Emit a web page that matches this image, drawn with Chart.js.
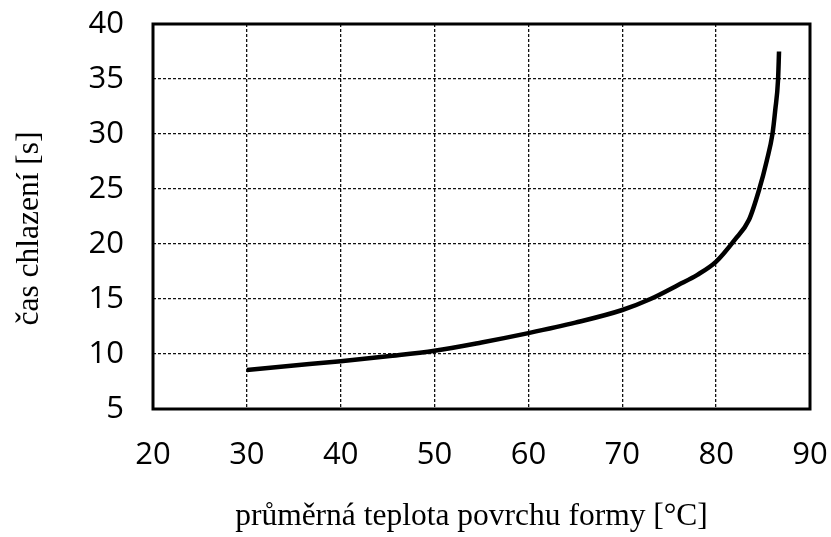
<!DOCTYPE html>
<html>
<head>
<meta charset="utf-8">
<script src="https://cdn.jsdelivr.net/npm/chart.js@4"></script>
<style>
  body { margin: 0; background: #fff; }
</style>
</head>
<body>
<canvas id="chart" width="831" height="537"></canvas>
<script>
// mold surface temperature [°C] vs. cooling time [s]
const temps = [30, 35, 40, 45, 50, 55, 60, 65, 70, 73, 76, 78, 80, 82, 83.5, 84.6, 85.4, 86, 86.3, 86.6, 86.7];
const coolTimes = [8.55, 8.95, 9.35, 9.8, 10.3, 11.05, 11.9, 12.85, 14.0, 15.0, 16.3, 17.2, 18.4, 20.4, 22.2, 25, 27.6, 30, 32.2, 35, 37.5];

const xTitle = 'průměrná teplota povrchu formy [°C]';
const yTitle = 'čas chlazení [s]';

const titleFont = '31.5px "Liberation Serif"';

// thick frame round the plot area
const frame = {
    id: 'frame',
    afterDatasetsDraw(chart) {
        const {ctx, chartArea} = chart;
        ctx.save();
        ctx.strokeStyle = '#000';
        ctx.lineWidth = 3;
        ctx.strokeRect(chartArea.left, chartArea.top, chartArea.right - chartArea.left, chartArea.bottom - chartArea.top);
        ctx.restore();
    }
};

// axis titles sit a bit off the axis centres in the original, so draw them here
const axisTitles = {
    id: 'axisTitles',
    afterDraw(chart) {
        const {ctx, chartArea} = chart;
        const midX = (chartArea.left + chartArea.right) / 2 - 10;
        const midY = (chartArea.top + chartArea.bottom) / 2 + 12;
        ctx.save();
        ctx.fillStyle = '#000';
        ctx.font = titleFont;
        ctx.textAlign = 'center';
        ctx.textBaseline = 'alphabetic';
        ctx.fillText(xTitle, midX, chartArea.bottom + 116);
        ctx.translate(38, midY);
        ctx.rotate(-Math.PI / 2);
        ctx.fillText(yTitle, 0, 0);
        ctx.restore();
    }
};

// fixed axis sizes, no extra room for overhanging labels
function fixSize(scale, w, h) {
    if (w) scale.width = w;
    if (h) scale.height = h;
    scale.paddingLeft = scale.paddingRight = scale.paddingTop = scale.paddingBottom = 0;
}

const tickFont = { family: 'Open Sans', size: 31 };

new Chart(document.getElementById('chart'), {
    type: 'line',
    data: {
        datasets: [{
            data: temps.map((t, i) => ({ x: t, y: coolTimes[i] })),
            borderColor: '#000',
            borderWidth: 4.5,
            pointRadius: 0,
            cubicInterpolationMode: 'monotone',
            fill: false,
        }]
    },
    options: {
        responsive: false,
        animation: false,
        layout: { padding: { top: 24, right: 21, left: 0, bottom: 0 } },
        plugins: {
            legend: { display: false },
            tooltip: { enabled: false },
        },
        scales: {
            x: {
                type: 'linear',
                min: 20,
                max: 90,
                ticks: { stepSize: 10, color: '#000', font: tickFont, padding: 28 },
                grid: { color: '#111', lineWidth: 1.3, drawTicks: false },
                border: { display: false, dash: [3, 2] },
                afterFit: (scale) => fixSize(scale, 0, 128),
            },
            y: {
                min: 5,
                max: 40,
                ticks: { stepSize: 5, color: '#000', font: tickFont, padding: 29 },
                grid: { color: '#111', lineWidth: 1.3, drawTicks: false },
                border: { display: false, dash: [3, 2] },
                afterFit: (scale) => fixSize(scale, 153, 0),
            }
        }
    },
    plugins: [frame, axisTitles]
});
</script>
</body>
</html>
